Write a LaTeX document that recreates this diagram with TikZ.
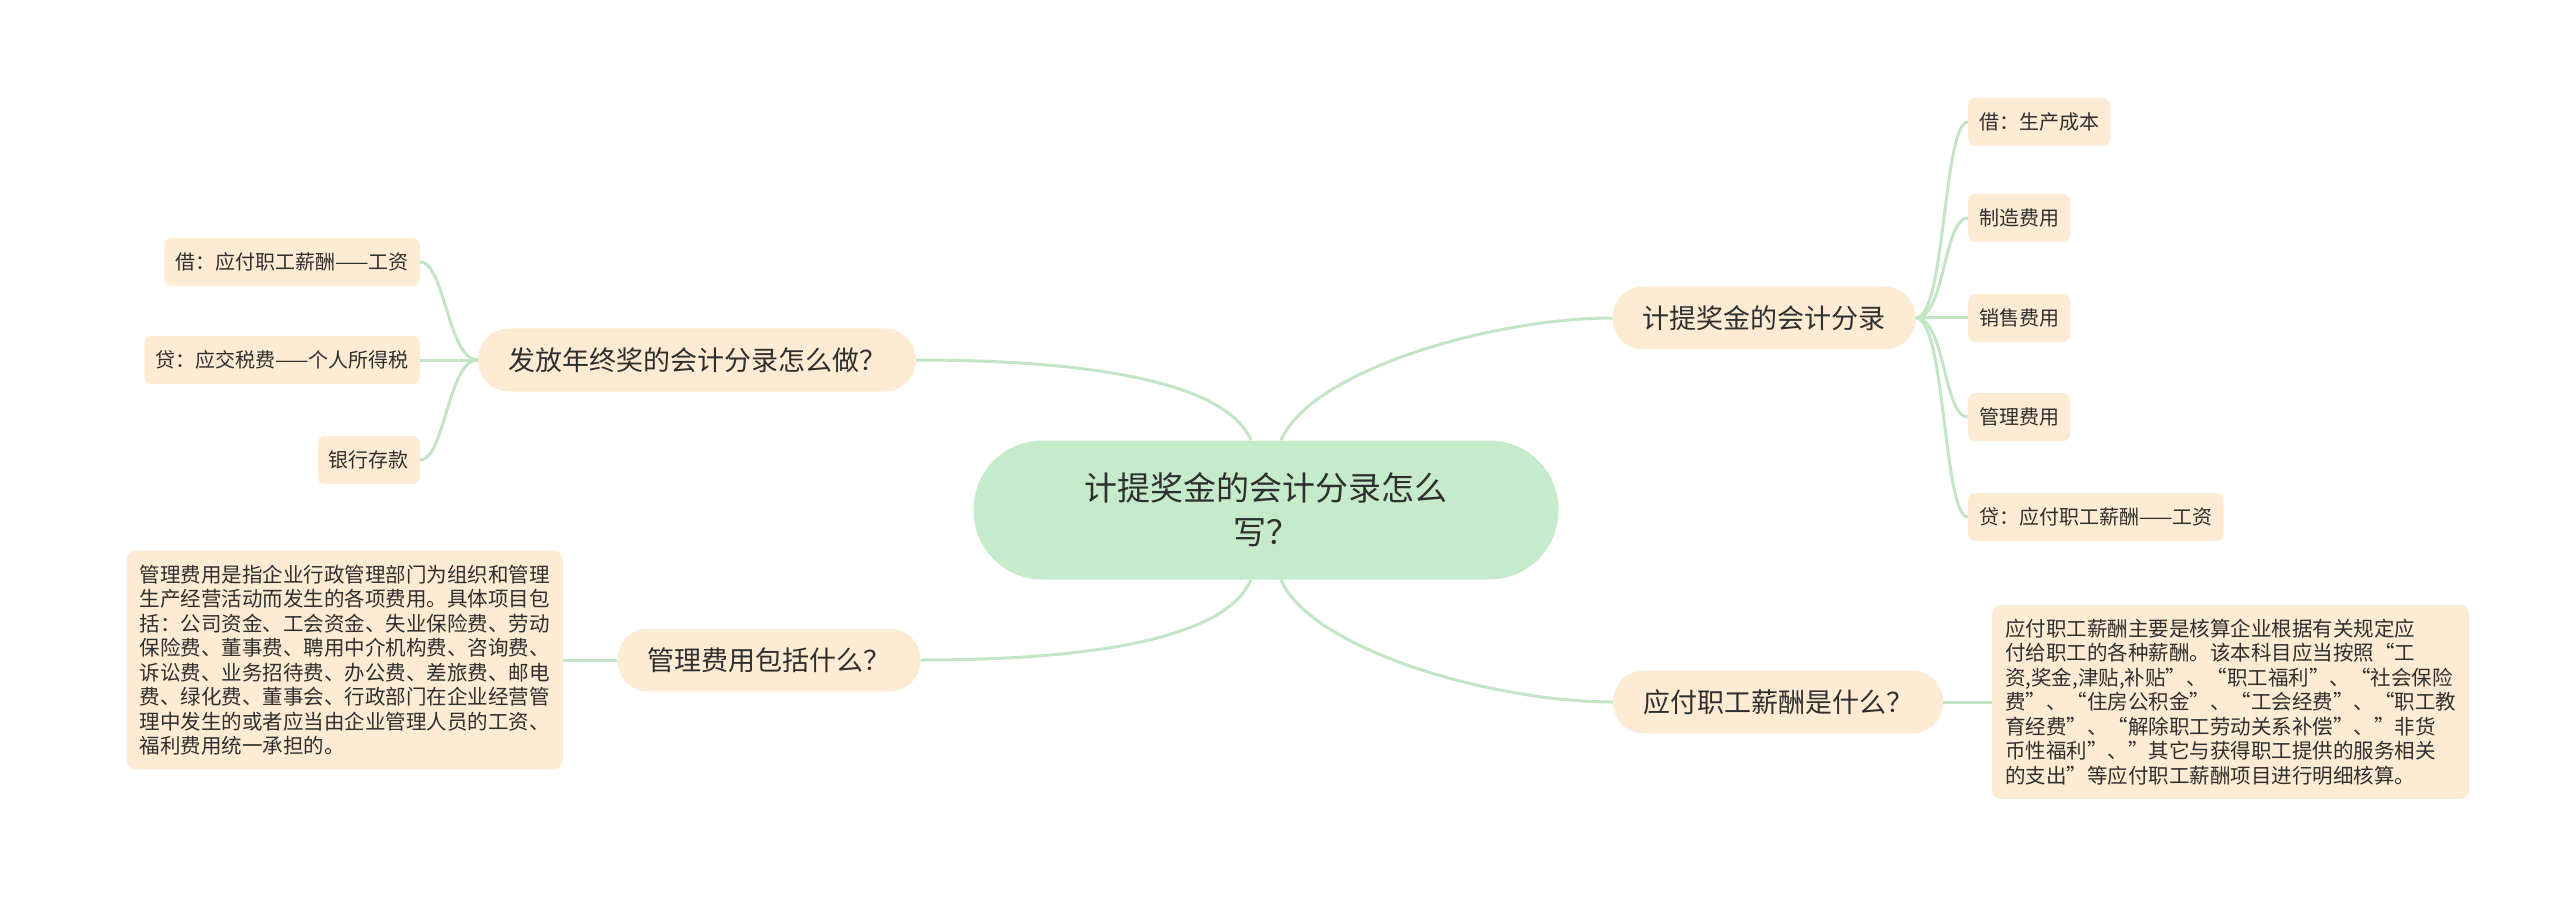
\documentclass[tikz,border=0pt]{standalone}
\usepackage{fontspec}
\setmainfont{Noto Sans CJK SC}
\definecolor{rootc}{HTML}{C6EBCB}
\definecolor{boxc}{HTML}{FDEBD3}
\definecolor{linec}{HTML}{C2E5C5}
\definecolor{txt}{HTML}{2F2F2F}
\begin{document}
\begin{tikzpicture}[x=1pt,y=-1pt,
  rootbox/.style={fill=rootc,rounded corners=69pt,minimum width=585pt,minimum height=139pt,align=center,font=\fontsize{33}{44}\selectfont,text=txt},
  topicbox/.style={fill=boxc,rounded corners=31pt,minimum height=63pt,inner xsep=30pt,font=\fontsize{27}{32}\selectfont,text=txt},
  leafbox/.style={fill=boxc,rounded corners=7pt,minimum height=48pt,inner xsep=11pt,font=\fontsize{20}{24}\selectfont,text=txt},
  textbox/.style={fill=boxc,rounded corners=9pt,inner xsep=13pt,inner ysep=14pt,align=left,font=\fontsize{20.5}{24.5}\selectfont,text=txt},
  conn/.style={draw=linec,line width=3pt}]
\useasboundingbox (0,0) rectangle (2560,909);
\node[rootbox] (root) at (1266,510) {计提奖金的会计分录怎么\\写？};
\node[topicbox] (r1) at (1764,318) {计提奖金的会计分录};
\node[topicbox] (r2) at (1778,702) {应付职工薪酬是什么？};
\node[topicbox] (l1) at (697,360) {发放年终奖的会计分录怎么做？};
\node[topicbox] (l2) at (769,660) {管理费用包括什么？};
\node[leafbox,anchor=west] (a1) at (1968,122) {借：生产成本};
\node[leafbox,anchor=west] (a2) at (1968,218) {制造费用};
\node[leafbox,anchor=west] (a3) at (1968,318) {销售费用};
\node[leafbox,anchor=west] (a4) at (1968,417) {管理费用};
\node[leafbox,anchor=west] (a5) at (1968,517) {贷：应付职工薪酬——工资};
\node[leafbox,anchor=east] (b1) at (420,262) {借：应付职工薪酬——工资};
\node[leafbox,anchor=east] (b2) at (420,360) {贷：应交税费——个人所得税};
\node[leafbox,anchor=east] (b3) at (420,460) {银行存款};
\node[textbox,anchor=west] (c1) at (1992,702) {应付职工薪酬主要是核算企业根据有关规定应\\付给职工的各种薪酬。该本科目应当按照“工\\资,奖金,津贴,补贴”、“职工福利”、“社会保险\\费”、“住房公积金”、“工会经费”、“职工教\\育经费”、“解除职工劳动关系补偿”、"非货\\币性福利"、"其它与获得职工提供的服务相关\\的支出"等应付职工薪酬项目进行明细核算。};
\node[textbox,anchor=east] (d1) at (563,660) {管理费用是指企业行政管理部门为组织和管理\\生产经营活动而发生的各项费用。具体项目包\\括：公司资金、工会资金、失业保险费、劳动\\保险费、董事费、聘用中介机构费、咨询费、\\诉讼费、业务招待费、办公费、差旅费、邮电\\费、绿化费、董事会、行政部门在企业经营管\\理中发生的或者应当由企业管理人员的工资、\\福利费用统一承担的。};
\begin{scope}[on background layer/.style={}]
\end{scope}
\draw[conn] (root.north) ++(15,0) .. controls +(30,-70) and +(-120,0) .. (r1.west);
\draw[conn] (root.south) ++(15,0) .. controls +(30,70) and +(-120,0) .. (r2.west);
\draw[conn] (root.north) ++(-15,0) .. controls +(-30,-70) and +(120,0) .. (l1.east);
\draw[conn] (root.south) ++(-15,0) .. controls +(-30,70) and +(120,0) .. (l2.east);
\foreach \n in {a1,a2,a3,a4,a5}
  \draw[conn] (r1.east) .. controls +(30,0) and +(-25,0) .. (\n.west);
\foreach \n in {b1,b2,b3}
  \draw[conn] (l1.west) .. controls +(-30,0) and +(25,0) .. (\n.east);
\draw[conn] (r2.east) -- (c1.west |- r2.east);
\draw[conn] (l2.west) -- (d1.east |- l2.west);
\end{tikzpicture}
\end{document}
